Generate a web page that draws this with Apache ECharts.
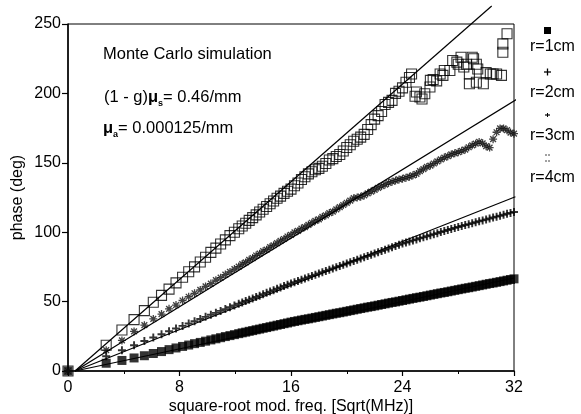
<!DOCTYPE html>
<html>
<head>
<meta charset="utf-8">
<style>
  html, body { margin: 0; padding: 0; background: #fff; }
  #chart { width: 581px; height: 414px; }
</style>
<script src="https://cdn.jsdelivr.net/npm/echarts/dist/echarts.min.js"></script>
</head>
<body>
<div id="chart"></div>
<script>
// Axis ticks
const xTickValues = [0, 8, 16, 24, 32];
const yTickValues = [0, 50, 100, 150, 200, 250];

// Square-root modulation frequency sample positions, Sqrt(MHz)
const rootFreq = [
  0, 2.74, 3.87, 4.74, 5.48, 6.12, 6.71, 7.25, 7.75, 8.22, 8.66, 9.08, 9.49, 9.87, 10.25, 10.61, 10.95, 11.29, 11.62, 11.94, 12.25,
  12.5, 12.75, 13.0, 13.25, 13.5, 13.75, 14.0, 14.25,
  14.5, 14.75, 15.0, 15.25, 15.5, 15.75, 16.0, 16.25,
  16.5, 16.75, 17.0, 17.25, 17.5, 17.75, 18.0, 18.25,
  18.5, 18.75, 19.0, 19.25, 19.5, 19.75, 20.0, 20.25,
  20.5, 20.75, 21.0, 21.25, 21.5, 21.75, 22.0, 22.25,
  22.5, 22.75, 23.0, 23.25, 23.5, 23.75, 24.0, 24.25,
  24.5, 24.75, 25.0, 25.25, 25.5, 25.75, 26.0, 26.25,
  26.5, 26.75, 27.0, 27.25, 27.5, 27.75, 28.0, 28.25,
  28.5, 28.75, 29.0, 29.25, 29.5, 29.75, 30.0, 30.25,
  30.5, 30.75, 31.0, 31.25, 31.5, 31.75, 32.0
];

// Phase (deg), r = 1 cm
const phase1 = [
  0, 5.6, 7.6, 9.4, 11.0, 12.6, 14.0, 15.4, 16.6, 17.7, 18.7, 19.7, 20.6, 21.5, 22.4, 23.2, 24.0, 24.8, 25.5, 26.2, 26.9,
  27.5, 28.0, 28.6, 29.1, 29.7, 30.2, 30.8, 31.3,
  31.9, 32.4, 33.0, 33.5, 34.1, 34.6, 35.2, 35.7,
  36.2, 36.7, 37.2, 37.6, 38.1, 38.6, 39.1, 39.6,
  40.1, 40.6, 41.1, 41.6, 42.0, 42.5, 43.0, 43.5,
  44.0, 44.5, 45.0, 45.5, 46.0, 46.4, 46.9, 47.4,
  47.9, 48.4, 48.9, 49.4, 49.8, 50.3, 50.8, 51.3,
  51.8, 52.3, 52.8, 53.2, 53.7, 54.2, 54.7, 55.2,
  55.7, 56.2, 56.6, 57.1, 57.6, 58.1, 58.6, 59.1,
  59.6, 60.0, 60.5, 61.0, 61.5, 62.0, 62.5, 63.0,
  63.4, 63.9, 64.4, 64.9, 65.4, 65.9, 66.4
];

// Phase (deg), r = 2 cm
const phase2 = [
  0, 10.6, 15.0, 18.6, 21.6, 24.1, 26.5, 28.6, 30.6, 32.5, 34.2, 35.9, 37.5, 39.0, 40.5, 41.9, 43.3, 44.6, 45.9, 47.2, 48.4,
  49.4, 50.4, 51.3, 52.3, 53.3, 54.3, 55.3, 56.3,
  57.2, 58.2, 59.2, 60.2, 61.2, 62.2, 63.1, 64.0,
  64.9, 65.8, 66.7, 67.6, 68.5, 69.4, 70.3, 71.2,
  72.1, 73.0, 73.9, 74.8, 75.7, 76.6, 77.5, 78.4,
  79.3, 80.2, 81.1, 82.0, 82.9, 83.8, 84.7, 85.6,
  86.5, 87.3, 88.2, 89.1, 90.0, 90.9, 91.8, 92.6,
  93.3, 94.1, 94.8, 95.6, 96.3, 97.1, 97.8, 98.6,
  99.3, 100.1, 100.8, 101.6, 102.3, 103.1, 103.8, 104.5,
  105.2, 105.8, 106.5, 107.2, 107.9, 108.5, 109.2, 109.9,
  110.6, 111.2, 111.9, 112.6, 113.3, 113.9, 114.6
];

// Phase (deg), r = 3 cm
const phase3 = [
  0, 15.0, 22.0, 28.5, 33.0, 37.5, 41.0, 44.8, 47.5, 50.8, 53.5, 56.0, 58.4, 60.9, 63.0, 65.4, 67.2, 69.5, 71.4, 73.4, 75.2,
  77.0, 78.2, 80.1, 81.4, 83.2, 84.5, 86.3, 87.4,
  89.3, 90.6, 92.2, 93.8, 95.1, 96.9, 98.0, 99.8,
  100.9, 102.6, 103.7, 105.3, 106.8, 108.2, 109.3, 111.0,
  112.2, 113.8, 114.8, 116.5, 118.0, 119.6, 121.2, 122.8,
  124.5, 125.0, 125.6, 126.5, 128.0, 129.3, 130.5, 132.0,
  133.2, 134.3, 135.5, 136.4, 137.2, 138.0, 138.5, 139.3,
  140.0, 141.0, 142.0, 144.0, 145.5, 147.0, 148.0, 149.5,
  151.0, 152.4, 153.8, 154.8, 156.0, 156.8, 157.6, 158.6,
  159.5, 161.2, 162.6, 163.8, 165.0, 164.0, 162.0, 161.0,
  167.0, 172.0, 174.8, 174.8, 173.5, 171.8, 171.0
];

// Phase (deg), r = 4 cm, on the first 70 sample positions
const phase4 = [
  0, 18.5, 29.5, 37.0, 43.5, 49.5, 54.5, 59.0, 63.5, 67.5, 71.5, 75.0, 78.5, 82.0, 85.5, 88.5, 91.5, 94.5, 97.5, 100.0, 102.5,
  104.5, 106.5, 108.5, 110.5, 112.5, 114.5, 116.5, 118.5,
  120.5, 122.5, 124.5, 126.0, 128.0, 129.5, 131.0, 133.5,
  135.5, 138.0, 140.0, 142.0, 143.5, 145.0, 146.0, 147.5,
  149.5, 152.0, 153.0, 154.5, 156.0, 158.5, 161.0, 163.0,
  165.5, 167.0, 168.5, 170.5, 174.0, 177.5, 181.5, 184.0,
  187.0, 192.0, 193.5, 195.0, 200.0, 201.5, 204.0, 208.0,
  211.5
];

// r = 4 cm, noisy high-frequency tail
const tailFreq4 = [
  24.65, 24.9, 25.0, 25.25, 25.4, 25.6, 25.97, 26.0, 26.2, 26.45, 26.7, 26.9, 27.0, 27.4, 27.6, 27.9, 28.0, 28.2,
  28.4, 28.6, 28.8, 28.8, 29.0, 29.1, 29.3, 29.3, 29.4, 29.8, 30.0, 30.3, 30.5, 30.75, 31.1, 31.2, 31.2, 31.5
];
const tailPhase4 = [
  214, 198, 201, 197.4, 196, 199.8, 204.6, 209.4, 210, 209, 214, 213, 216.5, 216.5, 223.7, 222.5, 221, 226,
  219, 221, 214, 207, 226, 225, 221, 208, 217.6, 207, 215, 214, 214, 214, 213, 229.7, 235.7, 243
];

// Diffusion-theory straight lines: [start, end] in (Sqrt(MHz), deg)
const theoryR1 = [[0.5, 0], [32.0, 67.0]];
const theoryR2 = [[0.5, 0], [32.1, 125.5]];
const theoryR3 = [[0.5, 0], [32.4, 197.0]];
const theoryR4 = [[0.5, 0], [30.4, 263.0]];

const seriesNames = ['r=1cm', 'r=2cm', 'r=3cm', 'r=4cm'];

const FONT = '"Liberation Sans", Arial, Helvetica, sans-serif';
const PLUS = 'path://M3.8,0H6.2V3.8H10V6.2H6.2V10H3.8V6.2H0V3.8H3.8Z';
const STAR = 'path://M4.2,0H5.8V10H4.2Z M0,4.2H10V5.8H0Z M0.8,2 L2,0.8 L9.2,8 L8,9.2Z M8,0.8 L9.2,2 L2,9.2 L0.8,8Z';

const pairs = (xs, ys) => ys.map((y, i) => [xs[i], y]);

const chart = echarts.init(document.getElementById('chart'), null, { renderer: 'canvas' });

const lineSeries = (data) => ({
  type: 'line',
  data: data,
  clip: false,
  symbol: 'none',
  silent: true,
  z: 5,
  lineStyle: { color: '#000', width: 1.2 }
});

const keyText = (label, y) => ({
  type: 'text', x: 530, y: y,
  style: { text: label, fill: '#000', fontSize: 16, fontFamily: FONT, verticalAlign: 'middle' }
});

chart.setOption({
  animation: false,
  backgroundColor: '#fff',
  textStyle: { fontFamily: FONT },
  grid: {
    left: 68, right: 67, top: 24, bottom: 43,
    outerBoundsMode: 'none',
    containLabel: false,
    show: true, borderColor: '#000', borderWidth: 1, backgroundColor: 'transparent'
  },
  xAxis: {
    type: 'value',
    min: xTickValues[0],
    max: xTickValues[xTickValues.length - 1],
    interval: xTickValues[1] - xTickValues[0],
    name: 'square-root mod. freq. [Sqrt(MHz)]',
    nameLocation: 'middle',
    nameGap: 28,
    nameMoveOverlap: false,
    nameTextStyle: { color: '#000', fontSize: 16, fontFamily: FONT },
    axisLine: { lineStyle: { color: '#000', width: 1.6 } },
    axisTick: { lineStyle: { color: '#000', width: 1.2 }, length: 5 },
    minorTick: { show: true, splitNumber: 2, length: 3, lineStyle: { color: '#000', width: 1 } },
    axisLabel: { color: '#000', fontSize: 16, fontFamily: FONT, margin: 9 },
    splitLine: { show: false }
  },
  yAxis: {
    type: 'value',
    min: yTickValues[0],
    max: yTickValues[yTickValues.length - 1],
    interval: yTickValues[1] - yTickValues[0],
    name: 'phase (deg)',
    nameLocation: 'middle',
    nameGap: 42,
    nameMoveOverlap: false,
    nameTextStyle: { color: '#000', fontSize: 16, fontFamily: FONT },
    axisLine: { lineStyle: { color: '#000', width: 1.5 } },
    axisTick: { lineStyle: { color: '#000', width: 1.2 }, length: 6 },
    axisLabel: { color: '#000', fontSize: 16, fontFamily: FONT, margin: 7 },
    splitLine: { show: false }
  },
  series: [
    {
      name: seriesNames[0], type: 'scatter', data: pairs(rootFreq, phase1),
      symbol: 'rect', symbolSize: 9, itemStyle: { color: '#000' }
    },
    {
      name: seriesNames[1], type: 'scatter', data: pairs(rootFreq, phase2),
      symbol: PLUS, symbolSize: 8, itemStyle: { color: '#000' }
    },
    {
      name: seriesNames[2], type: 'scatter', data: pairs(rootFreq, phase3),
      symbol: STAR, symbolSize: 8, itemStyle: { color: '#111' }
    },
    {
      name: seriesNames[3], type: 'scatter',
      data: pairs(rootFreq, phase4).concat(pairs(tailFreq4, tailPhase4)),
      symbol: 'rect', symbolSize: 10,
      itemStyle: { color: 'rgba(0,0,0,0)', borderColor: '#000', borderWidth: 1.1 }
    },
    lineSeries(theoryR1),
    lineSeries(theoryR2),
    lineSeries(theoryR3),
    lineSeries(theoryR4)
  ],
  graphic: [
    // Simulation parameters
    {
      type: 'text', left: 103, top: 46,
      style: { text: 'Monte Carlo simulation', fill: '#000', fontSize: 16.5, fontFamily: FONT }
    },
    {
      type: 'text', left: 104, top: 86,
      style: {
        text: '(1 - g){mu|\u03bc}{sub|s}= 0.46/mm', fill: '#000', fontSize: 16.5, fontFamily: FONT, lineHeight: 22,
        rich: {
          mu: { fontSize: 16.5, fontWeight: 'bold', fontFamily: FONT, lineHeight: 22 },
          sub: { fontSize: 9, fontWeight: 'bold', fontFamily: FONT, lineHeight: 16, verticalAlign: 'bottom' }
        }
      }
    },
    {
      type: 'text', left: 103, top: 117,
      style: {
        text: '{mu|\u03bc}{sub|a}= 0.000125/mm', fill: '#000', fontSize: 16.5, fontFamily: FONT, lineHeight: 22,
        rich: {
          mu: { fontSize: 16.5, fontWeight: 'bold', fontFamily: FONT, lineHeight: 22 },
          sub: { fontSize: 9, fontWeight: 'bold', fontFamily: FONT, lineHeight: 16, verticalAlign: 'bottom' }
        }
      }
    },
    // Key, symbol above each label
    { type: 'rect', shape: { x: 544, y: 27, width: 7, height: 7 }, style: { fill: '#000' } },
    keyText(seriesNames[0], 47),
    { type: 'polyline', shape: { points: [[544, 72], [551, 72]] }, style: { stroke: '#000', lineWidth: 1.3 } },
    { type: 'polyline', shape: { points: [[547.5, 68.5], [547.5, 75.5]] }, style: { stroke: '#000', lineWidth: 1.3 } },
    keyText(seriesNames[1], 93),
    { type: 'polyline', shape: { points: [[545, 115], [550, 115]] }, style: { stroke: '#000', lineWidth: 1.2 } },
    { type: 'polyline', shape: { points: [[547.5, 113], [547.5, 117]] }, style: { stroke: '#000', lineWidth: 1 } },
    keyText(seriesNames[2], 136),
    { type: 'polyline', shape: { points: [[545, 155], [550, 155]] }, style: { stroke: '#444', lineWidth: 1, lineDash: [2, 1] } },
    { type: 'polyline', shape: { points: [[545, 161], [550, 161]] }, style: { stroke: '#444', lineWidth: 1, lineDash: [2, 1] } },
    keyText(seriesNames[3], 178)
  ]
});
</script>
</body>
</html>
